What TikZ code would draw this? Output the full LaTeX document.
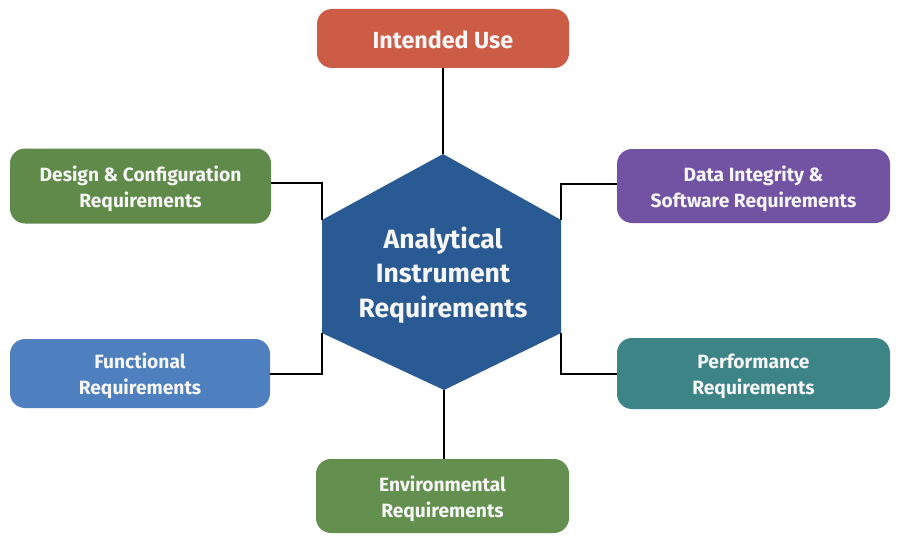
\documentclass[tikz,border=0pt]{standalone}
\usepackage{fontspec}
\setmainfont{Fira Sans}
\definecolor{cRed}{HTML}{CD5C47}
\definecolor{cGreenA}{HTML}{5F8A4A}
\definecolor{cGreenB}{HTML}{64904F}
\definecolor{cPurple}{HTML}{7253A3}
\definecolor{cBlue}{HTML}{4E7FBE}
\definecolor{cTeal}{HTML}{3D8486}
\definecolor{cHex}{HTML}{2A5A93}
\definecolor{cText}{HTML}{F6F6F6}
\begin{document}
\begin{tikzpicture}[x=1pt,y=-1pt,
  reqbox/.style={rectangle, rounded corners=15pt, inner sep=0pt},
  reqtext/.style={align=center, inner sep=0pt, text=cText,
    font=\bfseries\fontsize{19.2}{26}\selectfont},
  conn/.style={draw=black, line width=2pt}]
\useasboundingbox (0,0) rectangle (900,551);
\fill[white] (0,0) rectangle (900,551);
% hexagon
\coordinate (hT) at (443,154);
\coordinate (hUR) at (561,220);
\coordinate (hLR) at (561,333);
\coordinate (hB) at (444,390);
\coordinate (hLL) at (322,333);
\coordinate (hUL) at (322,220);
\fill[cHex] (hT) -- (hUR) -- (hLR) -- (hB) -- (hLL) -- (hUL) -- cycle;
\node[reqtext, font=\bfseries\fontsize{26.5}{34.5}\selectfont] (hex) at (443,275)
  {Analytical\\Instrument\\Requirements};
% boxes
\node[reqbox, fill=cRed, minimum width=252pt, minimum height=59pt] (iu) at (443,38.5) {};
\node[reqtext, font=\bfseries\fontsize{23.3}{26}\selectfont] (iuT) at ([yshift=-1.5pt]iu.center) {Intended Use};
\node[reqbox, fill=cGreenA, minimum width=261pt, minimum height=75pt] (dc) at (140.5,186) {};
\node[reqtext] (dcT) at ([yshift=-2.5pt]dc.center) {Design \& Configuration\\Requirements};
\node[reqbox, fill=cPurple, minimum width=273pt, minimum height=74pt] (di) at (753.5,186) {};
\node[reqtext] (diT) at ([yshift=-2.5pt]di.center) {Data Integrity \&\\Software Requirements};
\node[reqbox, fill=cBlue, minimum width=260pt, minimum height=69pt] (fr) at (140,373.5) {};
\node[reqtext] (frT) at ([yshift=-2.5pt]fr.center) {Functional\\Requirements};
\node[reqbox, fill=cTeal, minimum width=273pt, minimum height=71pt] (pr) at (753.5,373.5) {};
\node[reqtext] (prT) at ([yshift=-2.5pt]pr.center) {Performance\\Requirements};
\node[reqbox, fill=cGreenB, minimum width=253pt, minimum height=74pt] (er) at (442.5,496) {};
\node[reqtext] (erT) at ([yshift=-2.5pt]er.center) {Environmental\\Requirements};
% connectors
\draw[conn] (iu.south) -- (hT);
\draw[conn] (hB) -- (er.north -| hB);
\draw[conn] ([yshift=3pt]dc.east) -| (hUL);
\draw[conn] ([yshift=2pt]di.west) -| (hUR);
\draw[conn] (fr.east) -| (hLL);
\draw[conn] (pr.west) -| (hLR);
\end{tikzpicture}
\end{document}
